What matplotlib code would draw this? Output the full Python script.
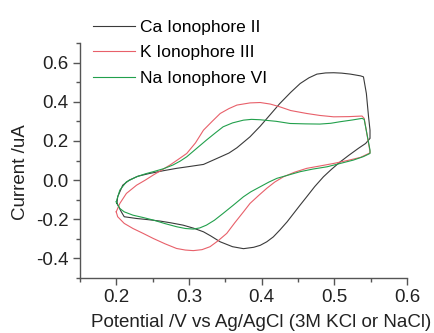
import matplotlib
matplotlib.use("Agg")
import matplotlib.pyplot as plt
from matplotlib.ticker import MultipleLocator

plt.rcParams['font.family'] = ['Liberation Sans', 'DejaVu Sans']

# Ca Ionophore II: forward scan 0.2 -> 0.55 V, then reverse back
ca_x = [0.201, 0.202, 0.209, 0.218, 0.230, 0.246, 0.265, 0.283, 0.300, 0.320, 0.343, 0.355, 0.366,
        0.384, 0.398, 0.412, 0.425, 0.440, 0.453, 0.465, 0.476, 0.488, 0.499, 0.510, 0.522, 0.536,
        0.540, 0.544, 0.547, 0.549,
        0.549, 0.543, 0.533, 0.520, 0.508, 0.496, 0.485, 0.473, 0.462, 0.453, 0.444, 0.435, 0.425,
        0.416, 0.407, 0.398, 0.389, 0.375, 0.360, 0.343, 0.330, 0.320, 0.306, 0.292, 0.275, 0.260,
        0.244, 0.228, 0.211, 0.207, 0.201]
ca_y = [-0.119, -0.085, -0.026, 0.000, 0.020, 0.034, 0.048, 0.060, 0.069, 0.080, 0.118, 0.138, 0.165,
        0.221, 0.275, 0.335, 0.391, 0.448, 0.493, 0.522, 0.541, 0.547, 0.548, 0.546, 0.541, 0.532,
        0.527, 0.442, 0.323, 0.255,
        0.213, 0.187, 0.162, 0.127, 0.093, 0.055, 0.017, -0.033, -0.085, -0.127, -0.170, -0.213, -0.255,
        -0.290, -0.315, -0.333, -0.343, -0.350, -0.340, -0.315, -0.285, -0.264, -0.245, -0.230, -0.218,
        -0.209, -0.202, -0.196, -0.187, -0.162, -0.119]

# K Ionophore III
k_x = [0.200, 0.205, 0.214, 0.228, 0.240, 0.251, 0.262, 0.274, 0.285, 0.297, 0.309, 0.320, 0.332,
       0.343, 0.355, 0.366, 0.384, 0.398, 0.412, 0.425, 0.440, 0.462, 0.480, 0.499, 0.520, 0.538,
       0.541, 0.549,
       0.549, 0.536, 0.518, 0.499, 0.480, 0.462, 0.445, 0.430, 0.418, 0.407, 0.396, 0.384, 0.375,
       0.363, 0.352, 0.340, 0.329, 0.318, 0.306, 0.295, 0.283, 0.267, 0.251, 0.237, 0.223, 0.211,
       0.202, 0.200]
k_y = [-0.162, -0.119, -0.068, -0.026, 0.000, 0.026, 0.050, 0.077, 0.105, 0.136, 0.190, 0.255, 0.300,
       0.340, 0.365, 0.383, 0.394, 0.396, 0.388, 0.374, 0.355, 0.340, 0.330, 0.323, 0.324, 0.327,
       0.315, 0.145,
       0.139, 0.116, 0.100, 0.085, 0.072, 0.060, 0.040, 0.017, -0.010, -0.042, -0.078, -0.119, -0.162,
       -0.218, -0.272, -0.310, -0.340, -0.355, -0.360, -0.357, -0.349, -0.325, -0.298, -0.272, -0.247,
       -0.221, -0.187, -0.162]

# Na Ionophore VI
na_x = [0.200, 0.205, 0.214, 0.228, 0.240, 0.251, 0.265, 0.278, 0.288, 0.297, 0.310, 0.324, 0.336,
        0.347, 0.360, 0.375, 0.386, 0.398, 0.420, 0.439, 0.460, 0.480, 0.495, 0.508, 0.525, 0.538,
        0.541, 0.549,
        0.549, 0.540, 0.526, 0.508, 0.490, 0.470, 0.453, 0.437, 0.421, 0.410, 0.398, 0.385, 0.375,
        0.361, 0.347, 0.335, 0.324, 0.315, 0.306, 0.295, 0.283, 0.267, 0.251, 0.237, 0.223, 0.211,
        0.205, 0.200]
na_y = [-0.111, -0.051, -0.009, 0.017, 0.032, 0.043, 0.058, 0.077, 0.097, 0.119, 0.160, 0.204, 0.240,
        0.272, 0.292, 0.306, 0.310, 0.308, 0.300, 0.289, 0.287, 0.286, 0.290, 0.298, 0.307, 0.315,
        0.310, 0.153,
        0.136, 0.120, 0.102, 0.085, 0.068, 0.056, 0.043, 0.026, 0.009, -0.010, -0.034, -0.060, -0.085,
        -0.128, -0.170, -0.205, -0.230, -0.244, -0.250, -0.247, -0.238, -0.222, -0.204, -0.191, -0.179,
        -0.162, -0.145, -0.111]

fig = plt.figure(figsize=(4.34, 3.33), dpi=100)
ax = fig.add_axes([0.184, 0.165, 0.754, 0.706])

ax.plot(ca_x, ca_y, color="#3a3a3a", lw=0.8, label="Ca Ionophore II")
ax.plot(k_x, k_y, color="#e8606a", lw=0.8, label="K Ionophore III")
ax.plot(na_x, na_y, color="#22a04c", lw=0.8, label="Na Ionophore VI")

ax.set_xlim(0.15, 0.6)
ax.set_ylim(-0.5, 0.7)
ax.xaxis.set_minor_locator(MultipleLocator(0.05))
ax.yaxis.set_minor_locator(MultipleLocator(0.1))
ax.set_xticks([0.2, 0.3, 0.4, 0.5, 0.6])
ax.set_yticks([-0.4, -0.2, 0.0, 0.2, 0.4, 0.6])
ax.set_yticklabels(["-0.4", "-0.2", "0.0", "0.2", "0.4", "0.6"])

for s in ["top", "right"]:
    ax.spines[s].set_visible(False)
for s in ["left", "bottom"]:
    ax.spines[s].set_color("#555555")
    ax.spines[s].set_linewidth(1.0)

ax.tick_params(which="major", direction="out", length=5, width=1, color="#555555",
               labelsize=13.5, labelcolor="#222222", pad=3)
ax.tick_params(which="minor", direction="out", length=3, width=1, color="#555555")

ax.set_xlabel("Potential /V vs Ag/AgCl (3M KCl or NaCl)", fontsize=13.5, color="#222222")
ax.set_ylabel("Current /uA", fontsize=13.5, color="#222222")
ax.xaxis.set_label_coords(0.553, -0.155)
ax.yaxis.set_label_coords(-0.155, 0.45)

fig.legend(loc="upper left", bbox_to_anchor=(93 / 434, 1 - 20 / 333), frameon=False, fontsize=12.5,
           handlelength=2.4, labelspacing=0.58, handletextpad=0.3, borderpad=0, borderaxespad=0)

fig.savefig("out.png", dpi=100)
